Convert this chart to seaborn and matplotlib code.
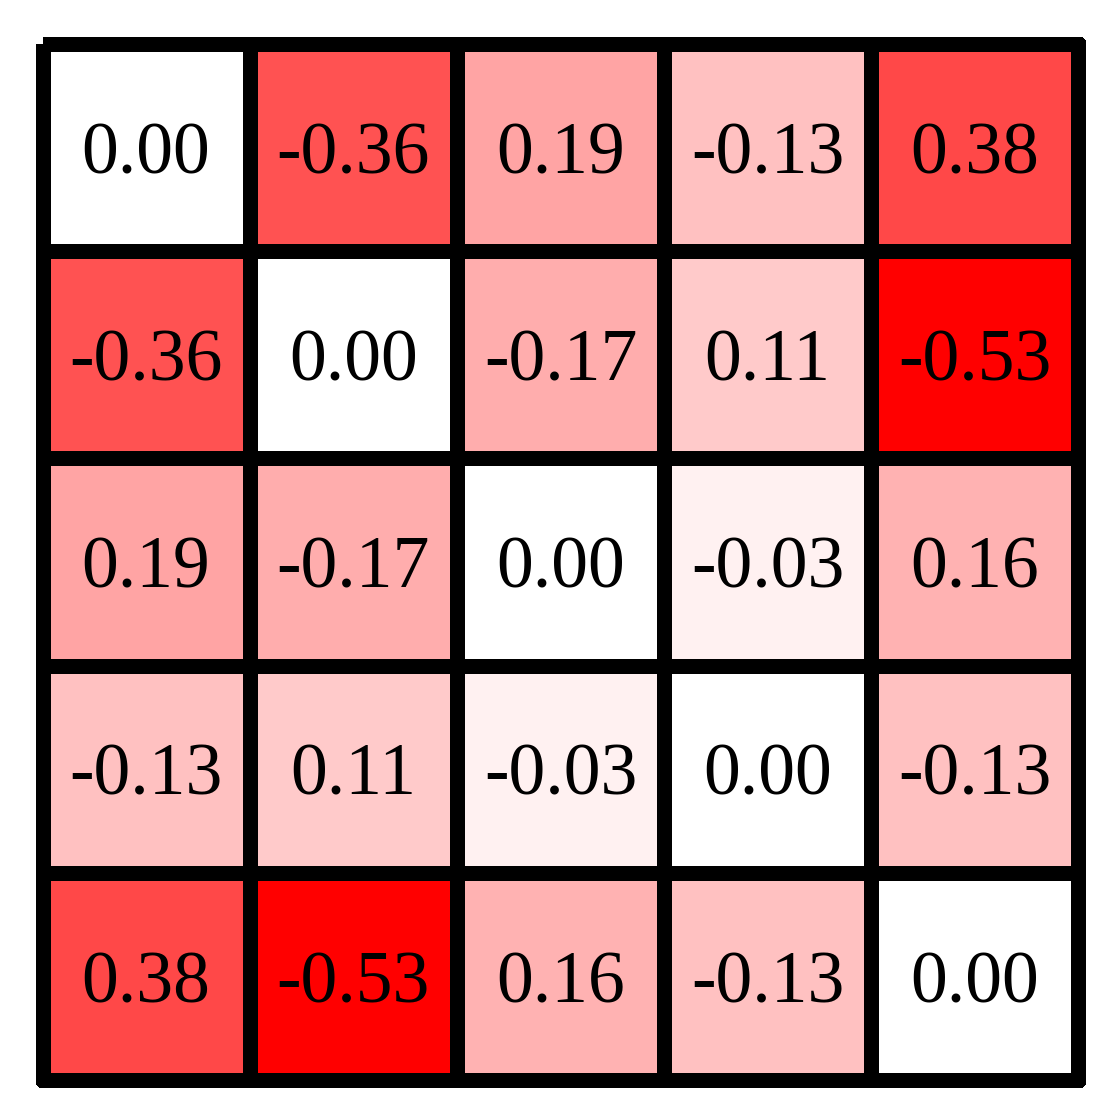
import matplotlib
matplotlib.use("Agg")
import matplotlib.pyplot as plt
import numpy as np
import seaborn as sns
from matplotlib.colors import LinearSegmentedColormap

# symmetric correlation-like matrix
row0 = [0.00, -0.36, 0.19, -0.13, 0.38]
row1 = [-0.36, 0.00, -0.17, 0.11, -0.53]
row2 = [0.19, -0.17, 0.00, -0.03, 0.16]
row3 = [-0.13, 0.11, -0.03, 0.00, -0.13]
row4 = [0.38, -0.53, 0.16, -0.13, 0.00]

values = np.array([row0, row1, row2, row3, row4])
strength = np.abs(values)

sns.set_theme(style="white")
plt.rcParams["font.family"] = ["Liberation Serif", "DejaVu Serif"]

cmap = LinearSegmentedColormap.from_list("white_red", ["#ffffff", "#ff0000"])

fig = plt.figure(figsize=(11.1, 11.1), dpi=100)
ax = fig.add_axes([0.0383, 0.027, 0.9333, 0.9333])
sns.heatmap(strength, annot=values, fmt=".2f", cmap=cmap,
            vmin=0, vmax=strength.max(), cbar=False,
            linewidths=10.8, linecolor="black",
            annot_kws={"color": "black", "fontsize": 53, "va": "center_baseline"},
            xticklabels=False, yticklabels=False, square=False, ax=ax)
for coll in ax.collections:
    coll.set_clip_on(False)
for sp in ax.spines.values():
    sp.set_visible(False)

fig.savefig("out.png", dpi=100)
plt.close(fig)
